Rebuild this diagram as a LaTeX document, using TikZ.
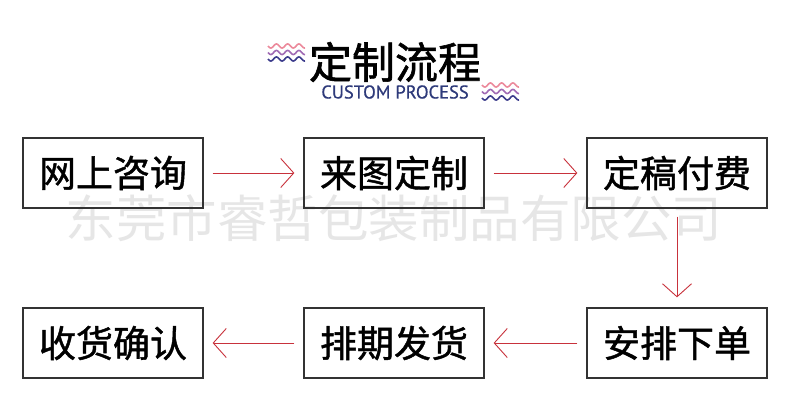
\documentclass[tikz,border=0pt]{standalone}
\usepackage{fontspec}
\usetikzlibrary{arrows.meta}
\newfontfamily\cjk{Noto Sans CJK SC}
\newfontfamily\cjkheavy[FakeBold=1.2]{Noto Sans CJK SC}
\newfontfamily\cjktitle[FakeBold=1.4]{Noto Sans CJK SC}
\newfontfamily\latinsans[FakeBold=0.6]{PT Sans}
\definecolor{arrowred}{HTML}{C8323C}
\definecolor{boxline}{HTML}{333333}
\definecolor{titleblue}{HTML}{2E3A7A}
\definecolor{wavepink}{HTML}{EC8A9C}
\definecolor{wavepurple}{HTML}{A06AB4}
\definecolor{waveblue}{HTML}{3C3C8C}
\definecolor{wmgrey}{HTML}{E6E6E6}
\tikzset{
  stepbox/.style={draw=boxline, line width=1.3pt, minimum width=180pt, minimum height=70pt,
    inner sep=0pt, font=\cjkheavy\fontsize{37}{40}\selectfont, text=black},
  flowarrow/.style={draw=arrowred, line width=0.9pt, -{Straight Barb[length=13pt, width=29pt, line width=0.9pt]}},
  wave/.style={line width=1.6pt}
}
\newcommand{\wavegroup}[2]{%
  \draw[wave, wavepink] plot[domain=0:37, samples=60] ({#1+\x}, {#2 + 2*sin(\x*32)});
  \draw[wave, wavepurple] plot[domain=0:37, samples=60] ({#1+\x}, {#2 + 6.5 + 2*sin(\x*32)});
  \draw[wave, waveblue] plot[domain=0:37, samples=60] ({#1+\x}, {#2 + 13 + 2*sin(\x*32)});
}
\begin{document}
\begin{tikzpicture}[x=1pt, y=-1pt]
\useasboundingbox (0,0) rectangle (790,417);
\fill[white] (0,0) rectangle (790,417);

% watermark
\node[font=\cjk\fontsize{50.5}{52}\selectfont, text=wmgrey, inner sep=0pt] (wm) at (394,218) {东莞市睿哲包装制品有限公司};

% title
\node[font=\cjktitle\fontsize{43}{46}\selectfont, inner sep=0pt] (title) at (395,62) {定制流程};
\node[font=\latinsans\fontsize{18.5}{21}\selectfont, text=titleblue, inner sep=0pt] (subtitle) at (395,92) {CUSTOM PROCESS};
\wavegroup{268}{46}
\wavegroup{482}{85}

% boxes
\node[stepbox] (b1) at (113,173) {网上咨询};
\node[stepbox] (b2) at (394,173) {来图定制};
\node[stepbox] (b3) at (677,173) {定稿付费};
\node[stepbox] (b6) at (677,343) {安排下单};
\node[stepbox] (b5) at (394,343) {排期发货};
\node[stepbox] (b4) at (113,343) {收货确认};

% arrows
\draw[flowarrow] ([xshift=9pt]b1.east) -- ([xshift=-9pt]b2.west);
\draw[flowarrow] ([xshift=9pt]b2.east) -- ([xshift=-9pt]b3.west);
\draw[flowarrow] ([yshift=-8pt]b3.south) -- ([yshift=10pt]b6.north);
\draw[flowarrow] ([xshift=-9pt]b6.west) -- ([xshift=9pt]b5.east);
\draw[flowarrow] ([xshift=-9pt]b5.west) -- ([xshift=9pt]b4.east);
\end{tikzpicture}
\end{document}
